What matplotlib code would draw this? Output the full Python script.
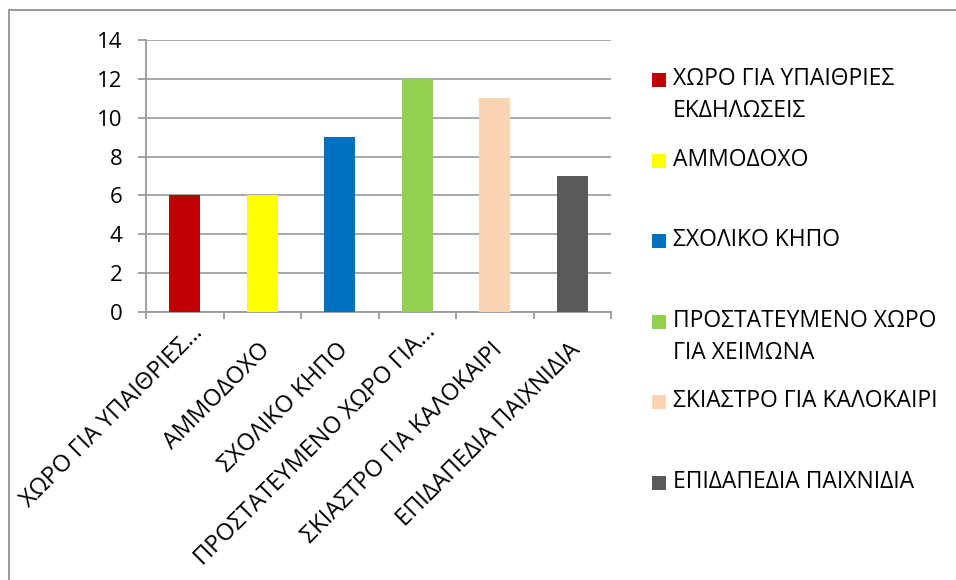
import matplotlib
matplotlib.use("Agg")
import matplotlib.pyplot as plt
import matplotlib.transforms as mtransforms
from matplotlib.patches import Rectangle

plt.rcParams['font.family'] = ['Open Sans', 'DejaVu Sans']

categories = ["ΧΩΡΟ ΓΙΑ ΥΠΑΙΘΡΙΕΣ ΕΚΔΗΛΩΣΕΙΣ", "ΑΜΜΟΔΟΧΟ", "ΣΧΟΛΙΚΟ ΚΗΠΟ",
              "ΠΡΟΣΤΑΤΕΥΜΕΝΟ ΧΩΡΟ ΓΙΑ ΧΕΙΜΩΝΑ", "ΣΚΙΑΣΤΡΟ ΓΙΑ ΚΑΛΟΚΑΙΡΙ",
              "ΕΠΙΔΑΠΕΔΙΑ ΠΑΙΧΝΙΔΙΑ"]
tick_labels = ["ΧΩΡΟ ΓΙΑ ΥΠΑΙΘΡΙΕΣ…", "ΑΜΜΟΔΟΧΟ", "ΣΧΟΛΙΚΟ ΚΗΠΟ",
               "ΠΡΟΣΤΑΤΕΥΜΕΝΟ ΧΩΡΟ ΓΙΑ…", "ΣΚΙΑΣΤΡΟ ΓΙΑ ΚΑΛΟΚΑΙΡΙ",
               "ΕΠΙΔΑΠΕΔΙΑ ΠΑΙΧΝΙΔΙΑ"]
legend_labels = ["ΧΩΡΟ ΓΙΑ ΥΠΑΙΘΡΙΕΣ\nΕΚΔΗΛΩΣΕΙΣ", "ΑΜΜΟΔΟΧΟ", "ΣΧΟΛΙΚΟ ΚΗΠΟ",
                 "ΠΡΟΣΤΑΤΕΥΜΕΝΟ ΧΩΡΟ\nΓΙΑ ΧΕΙΜΩΝΑ", "ΣΚΙΑΣΤΡΟ ΓΙΑ ΚΑΛΟΚΑΙΡΙ",
                 "ΕΠΙΔΑΠΕΔΙΑ ΠΑΙΧΝΙΔΙΑ"]
values = [6, 6, 9, 12, 11, 7]
colors = ["#C00000", "#FFFF00", "#0070C0", "#92D050", "#FBD4B4", "#595959"]
y_ticks = [0, 2, 4, 6, 8, 10, 12, 14]

W, H = 956, 580
FS = 16.5
fig = plt.figure(figsize=(W / 100, H / 100), dpi=100)
fig.patch.set_facecolor("white")

# outer chart border (right and bottom edges lie outside the picture)
fig.patches.append(Rectangle((9 / W, -0.05), 1.2, 1.05 - 10 / H,
                             transform=fig.transFigure, fill=False,
                             edgecolor="#878787", linewidth=1.2))

ax = fig.add_axes([146 / W, (H - 312) / H, (611 - 146) / W, (312 - 40) / H])
x = list(range(len(categories)))
ax.bar(x, values, width=0.4, color=colors, zorder=3)
ax.set_xlim(-0.5, len(categories) - 0.5)
ax.set_ylim(0, 14)
ax.set_yticks(y_ticks)
ax.set_yticklabels([str(v) for v in y_ticks], fontsize=16)
ax.yaxis.grid(True, color="#A0A0A0", linewidth=1.3, zorder=0)
ax.set_axisbelow(True)
for s in ["top", "right"]:
    ax.spines[s].set_visible(False)
for s in ["left", "bottom"]:
    ax.spines[s].set_color("#9A9A9A")
    ax.spines[s].set_linewidth(1.3)
ax.tick_params(axis="y", length=6, width=1.3, color="#9A9A9A", pad=11)
ax.set_xticks([i - 0.5 for i in range(len(categories) + 1)])
ax.set_xticklabels([])
ax.tick_params(axis="x", length=5, width=1.3, color="#9A9A9A")

# category labels, rotated 45 degrees, right end under each category
blend = mtransforms.blended_transform_factory(ax.transData, ax.transAxes)
for xi, lab in zip(x, tick_labels):
    if lab.endswith("…"):
        dx, dy = 19, -21
    else:
        dx, dy = 9, -39
    tr = blend + mtransforms.ScaledTranslation(dx / 100, dy / 100,
                                               fig.dpi_scale_trans)
    ax.text(xi, 0, lab, transform=tr, rotation=45, ha="right",
            va="baseline", rotation_mode="anchor", fontsize=17,
            clip_on=False)

# legend
rows_y = [80, 161, 241, 322, 402, 483]
for lab, c, yy in zip(legend_labels, colors, rows_y):
    fig.patches.append(Rectangle((652 / W, (H - yy - 7) / H), 14 / W, 14 / H,
                                 transform=fig.transFigure, facecolor=c,
                                 edgecolor="none"))
    fig.text(673 / W, (H - yy + 13) / H, lab, fontsize=FS, va="top",
             ha="left", linespacing=1.45, transform=fig.transFigure)

fig.savefig("out.png", dpi=100)
